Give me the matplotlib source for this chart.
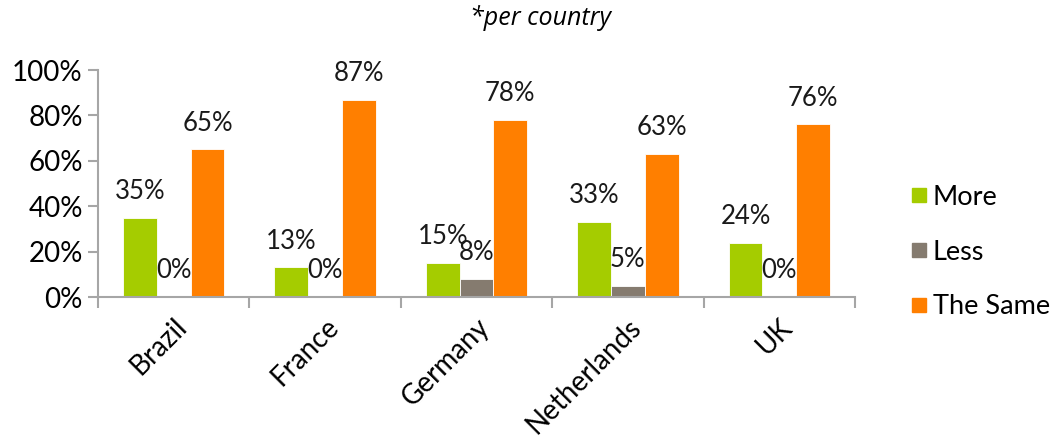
import matplotlib
matplotlib.use("Agg")
import matplotlib.pyplot as plt
import numpy as np
from matplotlib.ticker import FixedLocator, PercentFormatter
from matplotlib.lines import Line2D

countries = ["Brazil", "France", "Germany", "Netherlands", "UK"]
more = [35, 13, 15, 33, 24]
less = [0, 0, 8, 5, 0]
same = [65, 87, 78, 63, 76]
series_names = ["More", "Less", "The Same"]
colors = ["#A5CC00", "#857B6F", "#FF7F00"]

plt.rcParams["font.family"] = ["Lato", "DejaVu Sans"]

fig = plt.figure(figsize=(10.52, 4.44), dpi=100)
ax = fig.add_axes([98 / 1052, 1 - 297 / 444, (855 - 98) / 1052, (297 - 70) / 444])

x = np.arange(len(countries))
w = 0.223
for i, (vals, name, col) in enumerate(zip([more, less, same], series_names, colors)):
    pos = x + (i - 1) * w
    ax.bar(pos, vals, width=w, color=col, label=name, edgecolor="white", linewidth=0.6)
    for px, v in zip(pos, vals):
        ax.annotate(f"{v}%", (px, v), xytext=(0, 10), textcoords="offset points",
                    ha="center", va="bottom", fontsize=18.5, color="#1a1a1a")

ax.set_xlim(-0.5, len(countries) - 0.5)
ax.set_ylim(0, 100)
ax.yaxis.set_major_locator(FixedLocator([0, 20, 40, 60, 80, 100]))
ax.yaxis.set_major_formatter(PercentFormatter(decimals=0))
ax.set_xticks(x)
ax.set_xticklabels(countries, rotation=45, ha="right", rotation_mode="anchor")
ax.xaxis.set_minor_locator(FixedLocator(np.arange(-0.5, len(countries), 1.0)))
ax.tick_params(axis="x", which="major", length=0, labelsize=20, pad=12)
ax.tick_params(axis="x", which="minor", length=8, color="#A6A6A6", width=1.5)
ax.tick_params(axis="y", length=7, color="#A6A6A6", width=1.5, labelsize=20, pad=4)

for s in ["top", "right"]:
    ax.spines[s].set_visible(False)
for s in ["left", "bottom"]:
    ax.spines[s].set_color("#A6A6A6")
    ax.spines[s].set_linewidth(1.5)

handles = [Line2D([], [], marker="s", linestyle="", markersize=10,
                  markerfacecolor=c, markeredgecolor=c) for c in colors]
fig.legend(handles, series_names, loc="center left", bbox_to_anchor=(884 / 1052, 1 - 252 / 444),
           frameon=False, fontsize=19.5, labelspacing=1.1, handletextpad=0.1, handlelength=0.8)

fig.text(540 / 1052, 1 - 18 / 444, "*per country", ha="center", va="center",
         fontsize=18, style="italic", family=["Open Sans", "DejaVu Sans"])

fig.savefig("out.png", dpi=100)
